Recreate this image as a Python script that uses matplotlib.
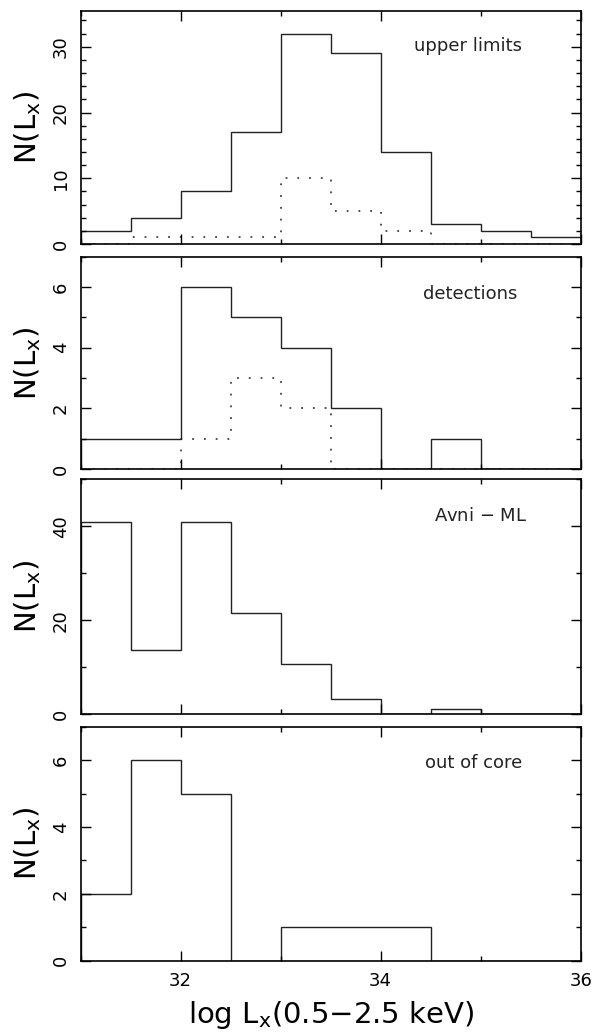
import matplotlib
matplotlib.use('Agg')
import matplotlib.pyplot as plt
import numpy as np
from matplotlib.ticker import MultipleLocator

# bin edges, log Lx from 31 to 36 in steps of 0.5
edges = np.arange(31.0, 36.01, 0.5)

upper_all = [2, 4, 8, 17, 32, 29, 14, 3, 2, 1]
upper_sub = [0, 1, 1, 1, 10, 5, 2, 0, 0, 0]
det_all = [1, 1, 6, 5, 4, 2, 0, 1, 0, 0]
det_sub = [0, 0, 1, 3, 2, 0, 0, 0, 0, 0]
avni_ml = [40.9, 13.6, 40.9, 21.6, 10.7, 3.1, 0, 1.0, 0, 0]
out_core = [2, 6, 5, 0, 1, 1, 1, 0, 0, 0]

labels = ['upper limits', 'detections', 'Avni $-$ ML', 'out of core']
label_pos = [(34.87, 30.1), (34.9, 5.78), (35.0, 42.1), (34.93, 5.92)]
ymax = [35.5, 7, 50, 7]
ymajor = [10, 2, 20, 2]
yminor = [2, 1, 10, 1]

plt.rcParams['font.family'] = 'DejaVu Sans'

fig = plt.figure(figsize=(5.95, 10.32), dpi=100)

# axes boxes in figure fractions (left, bottom, width, height)
boxes = [
    (0.1356, 0.7636, 0.8403, 0.2261),
    (0.1356, 0.5455, 0.8403, 0.2057),
    (0.1356, 0.3081, 0.8403, 0.2274),
    (0.1356, 0.0691, 0.8403, 0.2267),
]

solid = [upper_all, det_all, avni_ml, out_core]
dotted = [upper_sub, det_sub, None, None]

for i in range(4):
    ax = fig.add_axes(boxes[i])
    ax.stairs(solid[i], edges, color='#222222', lw=1.0)
    if dotted[i] is not None:
        ax.stairs(dotted[i], edges, color='#222222', lw=1.1,
                  linestyle=(0, (1.2, 6.5)))
    ax.set_xlim(31, 36)
    ax.set_ylim(0, ymax[i])
    ax.xaxis.set_major_locator(MultipleLocator(2))
    ax.xaxis.set_minor_locator(MultipleLocator(1))
    ax.yaxis.set_major_locator(MultipleLocator(ymajor[i]))
    ax.yaxis.set_minor_locator(MultipleLocator(yminor[i]))
    ax.tick_params(which='both', direction='in', top=True, right=True,
                   width=1.0, labelsize=13, pad=8)
    ax.tick_params(which='major', length=7)
    ax.tick_params(which='minor', length=3.8)
    ax.tick_params(axis='y', labelrotation=90)
    for lab in ax.get_yticklabels():
        lab.set_va('center')
    for sp in ax.spines.values():
        sp.set_linewidth(1.2)
    if i < 3:
        ax.tick_params(axis='x', labelbottom=False)
    else:
        ax.set_xticks([32, 34, 36])
        ax.set_xlabel(r'log L$_\mathregular{x}$(0.5$-$2.5 keV)', fontsize=21)
        ax.xaxis.set_label_coords(0.5, -0.165)
    ax.set_ylabel(r'N(L$_\mathregular{x}$)', fontsize=21)
    ax.yaxis.set_label_coords(-0.075, 0.5)
    ax.text(label_pos[i][0], label_pos[i][1], labels[i], fontsize=13,
            ha='center', va='center', color='#222222')

fig.savefig('out.png', dpi=100)
